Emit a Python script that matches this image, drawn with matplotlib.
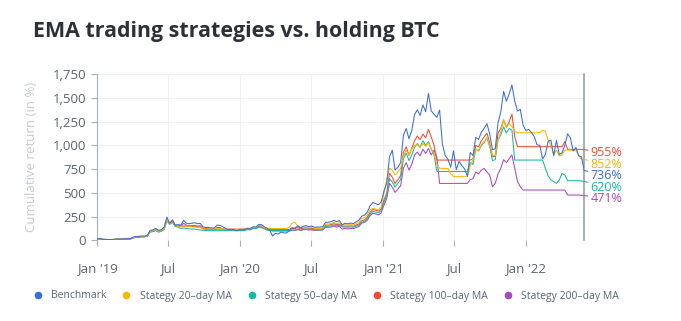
import matplotlib
matplotlib.use("Agg")
import matplotlib.pyplot as plt
import pandas as pd
from matplotlib.lines import Line2D
from matplotlib.ticker import FuncFormatter

plt.rcParams["font.family"] = ["Open Sans", "DejaVu Sans"]

# weekly cumulative returns (%), Jan 2019 -> end of May 2022
benchmark = [
    15, 18, 10, 10, 8, 8, 10, 14, 13, 14, 15, 16, 18,
    35, 40, 42, 45, 44, 55, 105, 110, 126, 105, 112, 140, 245,
    180, 215, 160, 165, 160, 210, 180, 175, 180, 185, 175, 178, 140, 135, 135, 132, 128, 160, 158, 145, 128, 110, 115, 112, 100, 112, 110,
    115, 128, 125, 143, 140, 168, 165, 142, 128, 105,
    45, 74, 66, 87, 78, 78, 101, 134, 129, 152,
    130, 147, 155, 145, 150, 138, 140, 140, 144, 188,
    191, 196, 210, 196, 209, 162, 180, 173, 182, 175,
    196, 212, 255, 264, 297, 362, 397, 388, 375, 404,
    518, 601,
    880, 950, 740, 770, 820, 1108, 1178, 1070, 1157, 1326,
    1375, 1316, 1427, 1355, 1549, 1365, 1329, 1297, 1373, 1014,
    895, 853, 770, 944, 744, 832, 788, 752, 674, 926,
    892, 1084, 1064, 1139, 1180, 1230, 1123, 957, 965, 1238,
    1355, 1570, 1466, 1542, 1638, 1469, 1362, 1381, 1214, 1157, 1170, 1136,
    1095, 1009, 1001, 858, 905, 1043, 1056, 892, 1053, 905, 921, 1001, 1123, 1082, 942, 978, 890, 879, 736,
]
ma20 = [
    15, 17, 10, 9, 8, 8, 9, 12, 12, 13, 14, 15, 17,
    30, 36, 38, 41, 40, 50, 95, 100, 112, 96, 100, 125, 210,
    175, 200, 155, 150, 145, 160, 150, 145, 142, 142, 135, 135, 120, 118, 118, 118, 118, 125, 124, 118, 115, 115, 115, 115, 115, 115, 115,
    118, 125, 122, 138, 135, 160, 150, 132, 125, 125,
    125, 125, 125, 125, 125, 125, 140, 180, 190, 150,
    135, 140, 140, 132, 135, 128, 128, 128, 130, 170,
    172, 176, 188, 176, 186, 160, 165, 160, 166, 162,
    178, 192, 230, 238, 265, 322, 335, 330, 320, 350,
    500, 640,
    760, 740, 690, 720, 760, 880, 950, 900, 960, 1000,
    1010, 980, 1020, 990, 1030, 960, 917, 800, 760, 758,
    758, 758, 700, 671, 671, 671, 671, 671, 671, 780,
    850, 960, 950, 1010, 1040, 1080, 1000, 900, 890, 1050,
    1150, 1268, 1190, 1230, 1200, 1150, 1134, 1134, 1134, 1134, 1134, 1134,
    1134, 1134, 1134, 1163, 1150, 1057, 1000, 900, 950, 890, 900, 950, 951, 951, 951, 951, 890, 852, 852,
]
ma50 = [
    15, 16, 9, 8, 7, 7, 8, 11, 11, 12, 13, 14, 15,
    27, 33, 35, 38, 37, 47, 90, 94, 106, 88, 95, 118, 205,
    170, 190, 145, 140, 125, 130, 125, 120, 118, 118, 112, 110, 105, 103, 102, 102, 102, 102, 102, 102, 102, 102, 102, 102, 102, 102, 102,
    105, 112, 110, 125, 122, 140, 135, 120, 108, 103,
    103, 103, 103, 103, 103, 103, 103, 110, 108, 118,
    108, 115, 120, 114, 116, 110, 110, 110, 112, 145,
    148, 152, 162, 152, 160, 140, 140, 138, 142, 138,
    150, 160, 190, 200, 225, 275, 305, 298, 290, 312,
    400, 470,
    650, 615, 560, 600, 640, 860, 920, 840, 900, 980,
    1020, 980, 1050, 1000, 1040, 960, 900, 728, 725, 725,
    725, 725, 725, 725, 725, 725, 725, 725, 725, 820,
    800, 960, 940, 1000, 1030, 1080, 990, 840, 850, 1060,
    1110, 1197, 1130, 1180, 1160, 846, 846, 846, 846, 846, 846, 846,
    846, 846, 846, 846, 760, 680, 636, 618, 600, 636, 705, 690, 628, 628, 628, 628, 628, 625, 620,
]
ma100 = [
    15, 17, 10, 9, 7, 7, 9, 12, 11, 12, 13, 14, 16,
    28, 34, 36, 40, 39, 48, 92, 97, 110, 92, 98, 122, 215,
    185, 210, 160, 160, 150, 150, 148, 145, 145, 145, 140, 140, 125, 122, 120, 118, 118, 118, 118, 118, 118, 118, 118, 118, 118, 118, 118,
    118, 120, 122, 132, 130, 140, 138, 125, 118, 115,
    115, 115, 115, 115, 115, 115, 115, 125, 122, 135,
    120, 128, 132, 126, 128, 120, 120, 120, 122, 158,
    160, 165, 175, 165, 170, 150, 150, 148, 152, 148,
    160, 172, 205, 215, 242, 295, 325, 318, 308, 330,
    425, 495,
    708, 665, 597, 640, 682, 927, 986, 895, 968, 1050,
    1100, 1060, 1120, 1080, 1170, 1090, 1000, 846, 846, 846,
    846, 846, 846, 846, 846, 846, 846, 846, 846, 846,
    860, 1000, 985, 1050, 1090, 1130, 1030, 880, 885, 1130,
    1180, 1270, 1190, 1250, 1330, 1092, 987, 987, 987, 987, 987, 987,
    987, 987, 987, 987, 987, 987, 987, 987, 987, 987, 987, 1040, 959, 959, 959, 959, 959, 959, 955,
]
ma200 = [
    15, 16, 9, 8, 7, 7, 8, 11, 10, 11, 12, 13, 15,
    26, 32, 34, 37, 36, 46, 88, 92, 104, 88, 94, 117, 212,
    170, 195, 150, 152, 148, 180, 158, 152, 155, 158, 150, 152, 120, 116, 116, 114, 110, 135, 134, 122, 110, 110, 110, 110, 108, 108, 108,
    110, 118, 116, 130, 128, 150, 148, 128, 118, 108,
    98, 98, 98, 98, 98, 98, 98, 105, 104, 112,
    104, 110, 114, 108, 110, 104, 105, 105, 108, 135,
    137, 140, 150, 140, 148, 118, 125, 120, 126, 122,
    135, 145, 180, 190, 210, 258, 285, 278, 268, 290,
    370, 440,
    600, 560, 505, 540, 575, 760, 820, 740, 800, 900,
    930, 890, 960, 915, 969, 900, 950, 880, 600, 600,
    600, 600, 600, 600, 600, 600, 600, 600, 600, 640,
    650, 720, 700, 740, 758, 720, 690, 565, 600, 700,
    760, 850, 820, 860, 899, 760, 620, 565, 530, 530, 530, 530,
    530, 530, 530, 530, 530, 530, 530, 530, 530, 530, 530, 530, 477, 477, 477, 477, 477, 474, 471,
]

names = ["Benchmark", "Stategy 20–day MA", "Stategy 50–day MA", "Stategy 100–day MA", "Stategy 200–day MA"]
colors = ["#3a6fd3", "#f5b800", "#17b8a6", "#f04a35", "#a44bc0"]
end_labels = ["736%", "852%", "620%", "955%", "471%"]
tick_dates = ["2019-01-01", "2019-07-01", "2020-01-01", "2020-07-01", "2021-01-01", "2021-07-01", "2022-01-01"]
tick_labels = ["Jan '19", "Jul", "Jan '20", "Jul", "Jan '21", "Jul", "Jan '22"]
y_ticks = [0, 250, 500, 750, 1000, 1250, 1500, 1750]

dates = pd.date_range("2019-01-01", "2022-05-31", periods=len(benchmark))
series = [benchmark, ma20, ma50, ma100, ma200]

fig = plt.figure(figsize=(6.81, 3.21), dpi=100)
ax = fig.add_axes([0.1429, 0.2514, 0.7151, 0.5171])

for vals, c in list(zip(series, colors))[::-1]:
    ax.plot(dates[:len(vals)], vals, color=c, lw=0.75, zorder=3)

ax.set_xlim(dates[0], dates[-1])
ax.set_ylim(0, 1750)
ax.set_yticks(y_ticks)
ax.yaxis.set_major_formatter(FuncFormatter(lambda v, p: f"{int(v):,}"))
ax.set_xticks(pd.to_datetime(tick_dates))
ax.set_xticklabels(tick_labels)
ax.grid(True, color="#eef0f3", lw=0.8, zorder=0)
ax.tick_params(axis="y", length=4, width=0.8, color="#a9b1ba", labelcolor="#5b6570", labelsize=9.5, pad=4)
ax.tick_params(axis="x", length=4, width=0.8, color="#a9b1ba", labelcolor="#5b6570", labelsize=9.5, pad=12)
for s in ["top", "bottom"]:
    ax.spines[s].set_visible(False)
ax.spines["left"].set_color("#a9b1ba")
ax.spines["right"].set_color("#8d98a4")
ax.spines["right"].set_linewidth(1.1)

ax.set_ylabel("Cumulative return (in %)", color="#c6cbd1", fontsize=9.5)
ax.yaxis.set_label_coords(-0.121, 0.5)

# end labels right of the last point, nudged down so they don't collide
pt_per_unit = ax.bbox.height / 1750 * 72 / fig.dpi
min_gap = 8.3  # points
order = sorted(range(len(series)), key=lambda k: -series[k][-1])
prev = None
for k in order:
    vals = series[k]
    y = vals[-1] * pt_per_unit - 2.0
    if prev is not None and prev - y < min_gap:
        y = prev - min_gap
    prev = y
    ax.annotate(end_labels[k], xy=(dates[len(vals) - 1], vals[-1]),
                xytext=(4.5, y - vals[-1] * pt_per_unit), textcoords="offset points",
                color=colors[k], fontsize=9, va="center", ha="left", annotation_clip=False,
                arrowprops=dict(arrowstyle="-", color=colors[k], lw=0.75, shrinkA=0, shrinkB=0))

fig.text(33 / 681, 1 - 31 / 321, "EMA trading strategies vs. holding BTC", fontsize=15.4,
         fontweight="bold", color="#2a3139", va="center", ha="left")

handles = [Line2D([], [], marker="o", ls="", color=c, markersize=4.5) for c in colors]
fig.legend(handles, names, loc="center left", bbox_to_anchor=(23 / 681, 1 - 296 / 321), ncol=5, frameon=False,
           fontsize=7.5, labelcolor="#5b6570", handlelength=1.0, handletextpad=0.8, columnspacing=1.4)

fig.savefig("out.png", dpi=100)
